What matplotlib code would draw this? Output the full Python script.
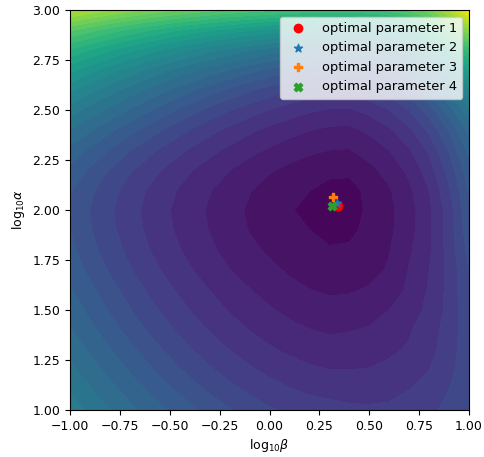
import numpy as np
import matplotlib
matplotlib.use("Agg")
import matplotlib.pyplot as plt

# grid of log10(beta) (x) and log10(alpha) (y), step 0.1
log_beta = [-1.0, -0.9, -0.8, -0.7, -0.6, -0.5, -0.4, -0.3, -0.2, -0.1, 0.0,
            0.1, 0.2, 0.3, 0.4, 0.5, 0.6, 0.7, 0.8, 0.9, 1.0]
log_alpha = [1.0, 1.1, 1.2, 1.3, 1.4, 1.5, 1.6, 1.7, 1.8, 1.9, 2.0,
             2.1, 2.2, 2.3, 2.4, 2.5, 2.6, 2.7, 2.8, 2.9, 3.0]

# objective values (rows: log_alpha, cols: log_beta)
objective = [
    [12.59, 11.79, 11.02, 10.29, 9.58, 8.90, 8.25, 7.63, 7.05, 6.56, 6.13, 5.79, 5.53, 5.38, 5.2, 5.15, 5.2, 5.45, 5.75, 6.3, 7.0],
    [11.90, 11.10, 10.33, 9.58, 8.86, 8.15, 7.47, 6.84, 6.30, 5.82, 5.41, 5.08, 4.82, 4.67, 4.6, 4.6, 4.7, 5.0, 5.35, 6.0, 6.9],
    [11.26, 10.46, 9.67, 8.90, 8.15, 7.42, 6.74, 6.14, 5.61, 5.15, 4.75, 4.42, 4.17, 4.02, 4.0, 4.05, 4.2, 4.55, 5.0, 5.7, 6.7],
    [10.66, 9.85, 9.05, 8.25, 7.47, 6.74, 6.09, 5.51, 4.99, 4.54, 4.14, 3.82, 3.57, 3.42, 3.45, 3.6, 3.85, 4.1, 4.7, 5.5, 6.7],
    [10.11, 9.27, 8.44, 7.63, 6.84, 6.14, 5.51, 4.94, 4.43, 3.98, 3.59, 3.27, 3.03, 2.87, 2.95, 3.1, 3.4, 3.9, 4.55, 5.4, 6.7],
    [9.59, 8.74, 7.89, 7.05, 6.30, 5.61, 4.99, 4.43, 3.92, 3.48, 3.10, 2.76, 2.50, 2.34, 2.4, 2.6, 3.0, 3.55, 4.25, 5.3, 6.8],
    [9.12, 8.25, 7.38, 6.56, 5.82, 5.15, 4.54, 3.98, 3.48, 3.04, 2.63, 2.28, 2.02, 1.86, 1.9, 2.1, 2.45, 3.2, 4.1, 5.3, 6.9],
    [8.63, 7.74, 6.88, 6.08, 5.36, 4.69, 4.09, 3.53, 3.02, 2.56, 2.22, 1.87, 1.61, 1.46, 1.5, 1.7, 2.1, 3.05, 4.0, 5.3, 7.0],
    [8.26, 7.34, 6.50, 5.72, 5.00, 4.34, 3.74, 3.19, 2.67, 2.20, 1.87, 1.53, 1.27, 1.12, 1.18, 1.5, 1.95, 2.85, 3.8, 5.4, 7.3],
    [8.01, 7.08, 6.24, 5.48, 4.76, 4.11, 3.51, 2.96, 2.43, 1.96, 1.61, 1.27, 1.01, 0.60, 0.7, 1.35, 1.8, 2.65, 3.8, 5.5, 7.6],
    [7.91, 6.98, 6.14, 5.38, 4.67, 4.02, 3.42, 2.87, 2.34, 1.86, 1.46, 1.12, 0.60, 0.24, 0.4, 1.25, 1.75, 2.6, 3.75, 5.5, 7.8],
    [8.13, 7.21, 6.36, 5.58, 4.86, 4.21, 3.60, 3.06, 2.53, 2.05, 1.64, 1.29, 1.03, 0.63, 0.6, 1.3, 1.9, 2.8, 4.0, 5.9, 8.1],
    [8.75, 7.85, 6.95, 6.13, 5.40, 4.72, 4.09, 3.53, 3.02, 2.53, 2.10, 1.75, 1.47, 1.30, 1.25, 1.75, 2.35, 3.25, 4.5, 6.4, 8.6],
    [9.70, 8.82, 7.94, 7.06, 6.27, 5.55, 4.90, 4.31, 3.77, 3.29, 2.87, 2.49, 2.19, 2.00, 1.95, 2.4, 3.0, 3.9, 5.2, 7.1, 9.3],
    [10.99, 10.11, 9.24, 8.37, 7.51, 6.70, 5.97, 5.32, 4.73, 4.20, 3.74, 3.35, 3.03, 2.80, 2.75, 3.2, 3.85, 4.8, 6.2, 8.1, 10.3],
    [12.51, 11.60, 10.73, 9.89, 9.06, 8.24, 7.44, 6.70, 6.04, 5.46, 4.95, 4.52, 4.16, 3.90, 3.85, 4.3, 5.0, 6.0, 7.5, 9.5, 11.7],
    [14.21, 13.28, 12.39, 11.54, 10.73, 9.96, 9.20, 8.48, 7.78, 7.13, 6.56, 6.07, 5.68, 5.40, 5.35, 5.8, 6.5, 7.6, 9.2, 11.4, 14.0],
    [16.30, 15.37, 14.46, 13.59, 12.77, 11.99, 11.26, 10.57, 9.94, 9.33, 8.77, 8.27, 7.85, 7.52, 7.45, 7.9, 8.7, 9.9, 11.6, 14.0, 17.0],
    [18.90, 17.98, 17.09, 16.24, 15.44, 14.67, 13.95, 13.28, 12.66, 12.09, 11.58, 11.13, 10.77, 10.49, 10.45, 10.9, 11.7, 13.0, 15.0, 17.6, 20.5],
    [22.21, 21.36, 20.55, 19.77, 19.04, 18.36, 17.71, 17.12, 16.57, 16.08, 15.65, 15.28, 14.99, 14.80, 14.75, 15.2, 16.0, 17.4, 19.5, 22.3, 24.8],
    [26.51, 25.79, 25.10, 24.45, 23.84, 23.28, 22.76, 22.29, 21.87, 21.50, 21.19, 20.95, 20.78, 20.71, 20.7, 20.9, 21.3, 22.2, 23.5, 26.2, 29.6],
]

# optimal parameters (log10 beta, log10 alpha)
opt_labels = ["optimal parameter 1", "optimal parameter 2",
              "optimal parameter 3", "optimal parameter 4"]
opt_beta = [0.342, 0.337, 0.317, 0.312]
opt_alpha = [2.020, 2.037, 2.063, 2.020]
opt_markers = ["o", "*", "P", "X"]
opt_colors = ["red", "tab:blue", "tab:orange", "tab:green"]

x_ticks = [-1.0, -0.75, -0.5, -0.25, 0.0, 0.25, 0.5, 0.75, 1.0]
y_ticks = [1.0, 1.25, 1.5, 1.75, 2.0, 2.25, 2.5, 2.75, 3.0]

plt.rcParams["font.size"] = 9

fig = plt.figure(figsize=(4.84, 4.57), dpi=100)
ax = fig.add_axes([70 / 484, 47 / 457, 399 / 484, 400 / 457])

X, Y = np.meshgrid(log_beta, log_alpha)
Z = np.array(objective)
ax.contourf(X, Y, Z, levels=np.linspace(0, 30, 31), cmap="viridis")

for b, a, m, c, lab in zip(opt_beta, opt_alpha, opt_markers, opt_colors, opt_labels):
    ax.scatter([b], [a], marker=m, color=c, label=lab, zorder=3)

ax.set_xlim(-1, 1)
ax.set_ylim(1, 3)
ax.set_xticks(x_ticks)
ax.set_yticks(y_ticks)
ax.set_xticklabels([f"{v:.2f}".replace("-", "\u2212") for v in x_ticks])
ax.set_yticklabels([f"{v:.2f}" for v in y_ticks])
ax.set_xlabel(r"log$_{10}\beta$", labelpad=3)
ax.set_ylabel(r"log$_{10}\alpha$")
ax.legend(loc="upper right", fontsize=9.4)

fig.savefig("out.png", dpi=100)
